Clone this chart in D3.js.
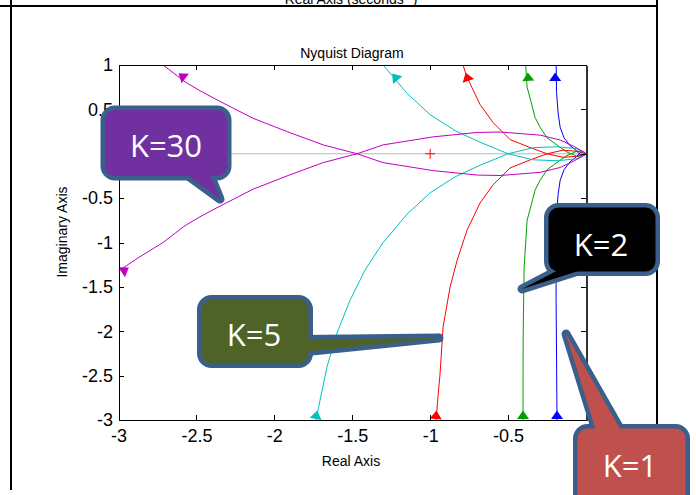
<!DOCTYPE html>
<html lang="en">
<head>
<meta charset="UTF-8">
<title>Nyquist Diagram</title>
<style>
  html, body { margin: 0; padding: 0; background: #fff; }
  svg { display: block; }
  .axis text { font-family: "Liberation Sans", Arial, sans-serif; font-size: 18px; fill: #000; }
  .label { font-family: "Liberation Sans", Arial, sans-serif; font-size: 14px; fill: #000; }
  .callout text { font-family: "Open Sans", sans-serif; font-size: 31px; fill: #fff; }
</style>
</head>
<body>
<script src="https://cdn.jsdelivr.net/npm/d3@7"></script>
<script>
// tick values and labels
var xTicks = [-3, -2.5, -2, -1.5, -1, -0.5, 0];
var xTickLabels = ["-3", "-2.5", "-2", "-1.5", "-1", "-0.5", "0"];
var yTicks = [-3, -2.5, -2, -1.5, -1, -0.5, 0, 0.5, 1];
var yTickLabels = ["-3", "-2.5", "-2", "-1.5", "-1", "-0.5", "0", "0.5", "1"];

// positive-frequency branch of each curve, [re, im]
// the negative-frequency branch is its mirror image
var k1 = [[-0.186,-3],[-0.189,-2.3],[-0.192,-1.65],[-0.192,-1.08],[-0.189,-0.69],[-0.179,-0.46],
          [-0.166,-0.30],[-0.141,-0.18],[-0.102,-0.09],[-0.064,-0.04],[-0.044,0],[-0.025,0.025],
          [-0.008,0.015],[0,0]];
var k2 = [[-0.404,-3],[-0.404,-2.5],[-0.403,-2.02],[-0.397,-1.28],[-0.378,-0.75],[-0.352,-0.58],
          [-0.327,-0.41],[-0.295,-0.30],[-0.25,-0.18],[-0.179,-0.09],[-0.128,-0.025],[-0.096,0],
          [-0.057,0.03],[-0.025,0.025],[0,0]];
var k5 = [[-0.962,-3],[-0.949,-2.72],[-0.936,-2.47],[-0.917,-1.95],[-0.872,-1.5],[-0.827,-1.2],
          [-0.763,-0.86],[-0.68,-0.555],[-0.596,-0.35],[-0.487,-0.16],[-0.359,-0.07],[-0.25,0],
          [-0.147,0.04],[-0.057,0.028],[0,0]];
var k10 = [[-1.732,-3],[-1.707,-2.78],[-1.662,-2.4],[-1.598,-2.02],[-1.514,-1.65],[-1.418,-1.31],
           [-1.302,-1.0],[-1.148,-0.68],[-1.0,-0.44],[-0.84,-0.26],[-0.68,-0.13],[-0.5,0],
           [-0.34,0.068],[-0.186,0.079],[-0.057,0.056],[0,0]];
var k30 = [[-3,-1.32],[-2.862,-1.16],[-2.714,-1.0],[-2.573,-0.81],[-2.477,-0.71],[-2.349,-0.59],
           [-2.137,-0.40],[-1.919,-0.25],[-1.687,-0.10],[-1.469,0],[-1.302,0.10],[-0.981,0.19],
           [-0.699,0.24],[-0.551,0.245],[-0.295,0.21],[-0.166,0.155],[-0.083,0.087],
           [-0.019,0.025],[0,0]];

// arrow positions on each curve (upper branch, lower branch)
var arrowsUpper = [[-0.198,0.865],[-0.372,0.865],[-0.763,0.865],[-1.225,0.865],[-2.592,0.876]];
var arrowsLower = [[-0.186,-2.944],[-0.404,-2.944],[-0.962,-2.944],[-1.73,-2.944],[-2.958,-1.31]];

var series = [k1, k2, k5, k10, k30];
var colors = ["#0000ff", "#00a000", "#ff0000", "#00bfbf", "#bf00bf"];

var W = 696, H = 495;
var svg = d3.select("body").append("svg").attr("width", W).attr("height", H);

var x = d3.scaleLinear().domain([-3, 0]).range([118.5, 586]);
var y = d3.scaleLinear().domain([-3, 1]).range([420, 65]);

// page frame (document table cell)
svg.append("g").attr("stroke", "#000").attr("stroke-width", 2)
  .selectAll("line")
  .data([[0, 6, 658, 6], [11, 0, 11, 490], [657, 0, 657, 490]])
  .enter().append("line")
  .attr("x1", function(d) { return d[0]; }).attr("y1", function(d) { return d[1]; })
  .attr("x2", function(d) { return d[2]; }).attr("y2", function(d) { return d[3]; });

var cut = svg.append("text").attr("class", "label").attr("x", 351).attr("y", 4)
  .attr("text-anchor", "middle");
cut.append("tspan").text("Real Axis (seconds");
cut.append("tspan").attr("font-size", "10px").attr("dy", -6).text("-1");
cut.append("tspan").attr("dy", 6).text(")");

svg.append("defs").append("clipPath").attr("id", "plot")
  .append("rect").attr("x", x(-3)).attr("y", y(1))
  .attr("width", x(0) - x(-3)).attr("height", y(-3) - y(1));

// real axis reference line and critical point
svg.append("line")
  .attr("x1", x(-3)).attr("x2", x(0)).attr("y1", y(0)).attr("y2", y(0))
  .attr("stroke", "#b8b8b8").attr("stroke-width", 1);

var plot = svg.append("g").attr("clip-path", "url(#plot)");

var line = d3.line().x(function(d) { return x(d[0]); }).y(function(d) { return y(d[1]); });

function mirror(pts) { return pts.map(function(d) { return [d[0], -d[1]]; }); }

function arrowPoly(pts, p) {
  var px = pts.map(function(d) { return [x(d[0]), y(d[1])]; });
  var q = [x(p[0]), y(p[1])];
  var best = 0, bd = Infinity;
  for (var i = 0; i < px.length - 1; i++) {
    var a = px[i], b = px[i + 1];
    var vx = b[0] - a[0], vy = b[1] - a[1];
    var t = ((q[0] - a[0]) * vx + (q[1] - a[1]) * vy) / (vx * vx + vy * vy);
    t = Math.max(0, Math.min(1, t));
    var dx = a[0] + t * vx - q[0], dy = a[1] + t * vy - q[1];
    var dd = dx * dx + dy * dy;
    if (dd < bd) { bd = dd; best = i; }
  }
  var ux = px[best + 1][0] - px[best][0], uy = px[best + 1][1] - px[best][1];
  var n = Math.sqrt(ux * ux + uy * uy); ux /= n; uy /= n;
  var tip = [q[0] + 4.5 * ux, q[1] + 4.5 * uy];
  var bx = q[0] - 4 * ux, by = q[1] - 4 * uy;
  return [tip, [bx - 6 * uy, by + 6 * ux], [bx + 6 * uy, by - 6 * ux]]
    .map(function(d) { return d.join(","); }).join(" ");
}

series.forEach(function(s, i) {
  var upper = mirror(s).reverse();
  plot.append("path").attr("d", line(s))
    .attr("fill", "none").attr("stroke", colors[i]).attr("stroke-width", 1);
  plot.append("path").attr("d", line(mirror(s)))
    .attr("fill", "none").attr("stroke", colors[i]).attr("stroke-width", 1);
  plot.append("polygon").attr("points", arrowPoly(s, arrowsLower[i])).attr("fill", colors[i]);
  plot.append("polygon").attr("points", arrowPoly(upper, arrowsUpper[i])).attr("fill", colors[i]);
});

// red + at -1
svg.append("path")
  .attr("d", "M" + (x(-1) - 5) + "," + y(0) + "h10M" + x(-1) + "," + (y(0) - 5) + "v10")
  .attr("stroke", "#ff0000").attr("stroke-width", 1);

// axes, ticks inward on all sides
var gx = svg.append("g").attr("class", "axis").attr("transform", "translate(0," + y(-3) + ")")
  .call(d3.axisBottom(x).tickValues(xTicks).tickFormat(function(d, i) { return xTickLabels[i]; })
    .tickSize(-5).tickSizeOuter(0).tickPadding(9));
var gy = svg.append("g").attr("class", "axis").attr("transform", "translate(" + x(-3) + ",0)")
  .call(d3.axisLeft(y).tickValues(yTicks).tickFormat(function(d, i) { return yTickLabels[i]; })
    .tickSize(-5).tickSizeOuter(0).tickPadding(5.5));
var gt = svg.append("g").attr("class", "axis").attr("transform", "translate(0," + y(1) + ")")
  .call(d3.axisTop(x).tickValues(xTicks).tickFormat("").tickSize(-5).tickSizeOuter(0));
var gr = svg.append("g").attr("class", "axis").attr("transform", "translate(" + x(0) + ",0)")
  .call(d3.axisRight(y).tickValues(yTicks).tickFormat("").tickSize(-5).tickSizeOuter(0));
svg.selectAll(".axis path, .axis line").attr("stroke", "#000").attr("shape-rendering", "crispEdges");
gr.select(".domain").attr("stroke", "#333").attr("stroke-width", 2);

svg.append("text").attr("class", "label").attr("x", 352).attr("y", 58)
  .attr("text-anchor", "middle").text("Nyquist Diagram");
svg.append("text").attr("class", "label").attr("x", 351).attr("y", 466)
  .attr("text-anchor", "middle").text("Real Axis");
svg.append("text").attr("class", "label")
  .attr("transform", "translate(67,232) rotate(-90)")
  .attr("text-anchor", "middle").text("Imaginary Axis");

// callout annotations
var callouts = [
  { text: "K=30", fill: "#7030a0", box: [105, 110, 122, 66], tail: [[183, 172], [220, 199], [209, 172]], tx: 166, ty: 146 },
  { text: "K=2", fill: "#000000", box: [548.5, 207.5, 107, 64], tail: [[566, 266], [522, 289], [594, 266]], tx: 601, ty: 245 },
  { text: "K=5", fill: "#4f6228", box: [201.5, 299.5, 107, 64], tail: [[302, 339.5], [439, 338], [302, 352]], tx: 254, ty: 335 },
  { text: "K=1", fill: "#c0504d", box: [577.5, 428.5, 108, 80], tail: [[597, 434], [566, 334], [623, 434]], tx: 630, ty: 466 }
];

callouts.forEach(function(c) {
  var g = svg.append("g").attr("class", "callout");
  var tail = c.tail.map(function(d) { return d.join(","); }).join(" ");
  g.append("polygon").attr("points", tail)
    .attr("fill", "none").attr("stroke", "#3a5f8b").attr("stroke-width", 9).attr("stroke-linejoin", "round");
  g.append("rect").attr("x", c.box[0]).attr("y", c.box[1]).attr("width", c.box[2]).attr("height", c.box[3])
    .attr("rx", 10).attr("fill", "none").attr("stroke", "#3a5f8b").attr("stroke-width", 9);
  g.append("polygon").attr("points", tail).attr("fill", c.fill);
  g.append("rect").attr("x", c.box[0]).attr("y", c.box[1]).attr("width", c.box[2]).attr("height", c.box[3])
    .attr("rx", 10).attr("fill", c.fill);
  g.append("text").attr("x", c.tx).attr("y", c.ty).attr("dy", "0.36em")
    .attr("text-anchor", "middle").text(c.text);
});
</script>
</body>
</html>
